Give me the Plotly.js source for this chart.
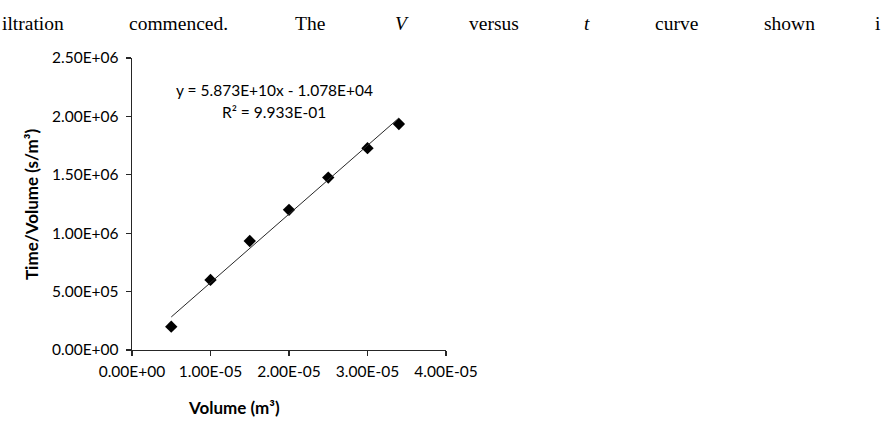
<!DOCTYPE html>
<html>
<head>
<meta charset="utf-8">
<script src="https://cdn.plot.ly/plotly-3.0.1.min.js"></script>
<style>html,body{margin:0;padding:0;background:#fff;}#chart{width:885px;height:434px;}</style>
</head>
<body>
<div id="chart"></div>
<script>
// ---- data ----
const volume = [0.5e-5, 1.0e-5, 1.5e-5, 2.0e-5, 2.5e-5, 3.0e-5, 3.4e-5];
const timePerVolume = [2.0e5, 6.0e5, 9.33e5, 1.2e6, 1.476e6, 1.728e6, 1.935e6];
const trendSlope = 5.873e10;
const trendIntercept = -1.078e4;
const xTickVals = [0, 1e-5, 2e-5, 3e-5, 4e-5];
const xTickText = ["0.00E+00", "1.00E-05", "2.00E-05", "3.00E-05", "4.00E-05"];
const yTickVals = [0, 5e5, 1e6, 1.5e6, 2e6, 2.5e6];
const yTickText = ["0.00E+00", "5.00E+05", "1.00E+06", "1.50E+06", "2.00E+06", "2.50E+06"];
const equationText = "y = 5.873E+10x - 1.078E+04";
const r2Text = "R² = 9.933E-01";
const xTitle = "Volume (m³)";
const yTitle = "Time/Volume (s/m³)";
const docWords = ["iltration", "commenced.", "The", "V", "versus", "t", "curve", "shown", "i"];
const docItalic = [false, false, false, true, false, true, false, false, false];

// ---- layout helpers (pixel -> paper) ----
const W = 885, H = 434;
const M = {l: 132, r: 439, t: 58, b: 84};
const PW = W - M.l - M.r, PH = H - M.t - M.b;
const px = x => (x - M.l) / PW;
const py = y => (H - M.b - y) / PH;
const docWordX = [0, 127, 293, 393, 467, 582, 653, 762, 873];

const trendX = [volume[0], volume[volume.length - 1]];
const trendY = trendX.map(v => trendSlope * v + trendIntercept);

const calib = "Lato, 'Open Sans', sans-serif";
const fs = 15.5;

const traces = [
  {x: volume, y: timePerVolume, type: 'scatter', mode: 'markers',
   marker: {symbol: 'diamond', size: 9.5, color: '#000'}, showlegend: false, hoverinfo: 'skip'},
  {x: trendX, y: trendY, type: 'scatter', mode: 'lines',
   line: {color: '#262626', width: 1}, showlegend: false, hoverinfo: 'skip'}
];

const annotations = [
  {text: equationText, x: px(274), y: py(90), xref: 'paper', yref: 'paper', showarrow: false,
   xanchor: 'center', yanchor: 'middle', font: {family: calib, size: fs, color: '#000'}},
  {text: r2Text, x: px(274), y: py(112), xref: 'paper', yref: 'paper', showarrow: false,
   xanchor: 'center', yanchor: 'middle', font: {family: calib, size: fs, color: '#000'}},
  {text: '<b>' + xTitle + '</b>', x: px(234), y: py(407), xref: 'paper', yref: 'paper', showarrow: false,
   xanchor: 'center', yanchor: 'middle', font: {family: calib, size: 17, color: '#000'}},
  {text: '<b>' + yTitle + '</b>', x: px(31), y: py(205), xref: 'paper', yref: 'paper', showarrow: false,
   textangle: -90, xanchor: 'center', yanchor: 'middle', font: {family: calib, size: 17, color: '#000'}}
];
docWords.forEach((w, i) => {
  annotations.push({text: docItalic[i] ? '<i>' + w + '</i>' : w, x: px(docWordX[i]), y: py(24),
    xref: 'paper', yref: 'paper', showarrow: false, xanchor: 'left', yanchor: 'middle',
    font: {family: "'Liberation Serif', 'Times New Roman', serif", size: 19.5, color: '#000'}});
});

const layout = {
  width: W, height: H,
  margin: M,
  paper_bgcolor: '#fff', plot_bgcolor: '#fff',
  showlegend: false,
  xaxis: {range: [0, 4e-5], tickvals: xTickVals, ticktext: xTickText, tickmode: 'array',
    showgrid: false, zeroline: false, showline: true, linecolor: '#262626', linewidth: 1.3,
    ticks: 'outside', ticklen: 5, tickcolor: '#262626', tickwidth: 1.3,
    tickfont: {family: calib, size: fs, color: '#000'}, ticklabelstandoff: 2, fixedrange: true},
  yaxis: {range: [0, 2.5e6], tickvals: yTickVals, ticktext: yTickText, tickmode: 'array',
    showgrid: false, zeroline: false, showline: true, linecolor: '#262626', linewidth: 1.3,
    ticks: 'outside', ticklen: 5, tickcolor: '#262626', tickwidth: 1.3,
    tickfont: {family: calib, size: fs, color: '#000'}, ticklabelstandoff: 4, fixedrange: true},
  annotations: annotations
};

Plotly.newPlot('chart', traces, layout, {displayModeBar: false, staticPlot: true});
</script>
</body>
</html>
